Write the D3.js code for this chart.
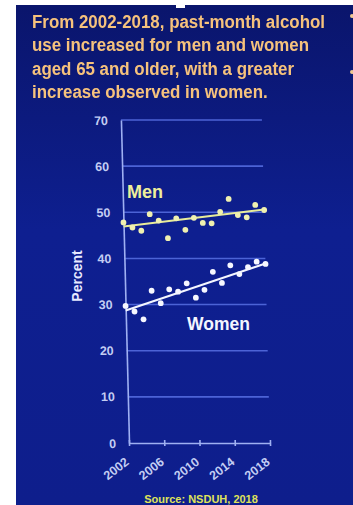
<!DOCTYPE html>
<html>
<head>
<meta charset="utf-8">
<script src="https://cdn.jsdelivr.net/npm/d3@7"></script>
<style>
  html, body { margin: 0; padding: 0; background: #ffffff; }
  svg { display: block; }
  text { font-family: "Liberation Sans", Arial, sans-serif; font-weight: bold; }
</style>
</head>
<body>
<svg id="chart" width="353" height="505"></svg>
<script>
// ---- data ----
const titleLines = [
  "From 2002-2018, past-month alcohol",
  "use increased for men and women",
  "aged 65 and older, with a greater",
  "increase observed in women."
];
const years = [2002, 2003, 2004, 2005, 2006, 2007, 2008, 2009, 2010, 2011, 2012, 2013, 2014, 2015, 2016, 2017, 2018];
const menValues = [47.8, 46.7, 46.0, 49.6, 48.2, 44.4, 48.7, 46.2, 48.8, 47.7, 47.6, 50.1, 52.9, 49.4, 48.9, 51.6, 50.5];
const womenValues = [29.7, 28.5, 26.8, 33.0, 30.3, 33.3, 32.8, 34.6, 31.5, 33.2, 37.1, 34.7, 38.5, 36.6, 38.1, 39.3, 38.8];
const menTrend = [46.9, 50.6];     // trend at 2002, 2018
const womenTrend = [28.7, 38.9];   // trend at 2002, 2018
const xTicks = [2002, 2006, 2010, 2014, 2018];
const yTicks = [0, 10, 20, 30, 40, 50, 60, 70];
const yLabel = "Percent";
const sourceText = "Source: NSDUH, 2018";

// ---- layout ----
const svg = d3.select("#chart");
const W = 353, H = 505;

const defs = svg.append("defs");
const grad = defs.append("linearGradient").attr("id", "bg").attr("x1", 0).attr("y1", 0).attr("x2", 0).attr("y2", 1);
grad.append("stop").attr("offset", "0%").attr("stop-color", "#0a156c");
grad.append("stop").attr("offset", "45%").attr("stop-color", "#0e1f90");
grad.append("stop").attr("offset", "100%").attr("stop-color", "#0e1e8c");

const glow = defs.append("filter").attr("id", "glow").attr("x", "-5%").attr("y", "-20%").attr("width", "110%").attr("height", "140%");
glow.append("feGaussianBlur").attr("in", "SourceGraphic").attr("stdDeviation", 0.5);

svg.append("rect").attr("x", 0).attr("y", 0).attr("width", W).attr("height", H).attr("fill", "#ffffff");
svg.append("rect").attr("x", 16).attr("y", 5).attr("width", W - 16).attr("height", H - 5).attr("fill", "url(#bg)");
svg.append("rect").attr("x", 176).attr("y", 0).attr("width", 9).attr("height", 8).attr("fill", "#ffffff");
svg.append("rect").attr("x", 349).attr("y", 0).attr("width", 4).attr("height", 5).attr("fill", "#ffffff");
// partial bullets at right edge
[16, 72].forEach(y => svg.append("circle").attr("cx", 352).attr("cy", y).attr("r", 2).attr("fill", "#f0c890"));

// title
const title = svg.append("g").attr("filter", "url(#glow)");
titleLines.forEach((t, i) => {
  title.append("text")
    .attr("x", 32)
    .attr("y", 28 + i * 23.3)
    .attr("font-size", 17.5)
    .attr("fill", "#f6c27c")
    .text(t);
});
// fit the first line width to the reference
(function () {
  const nodes = title.selectAll("text").nodes();
  const len0 = nodes[0].getComputedTextLength();
  const target = 293;
  const scale = target / len0;
  nodes.forEach(n => {
    const l = n.getComputedTextLength();
    n.setAttribute("textLength", (l * scale).toFixed(1));
    n.setAttribute("lengthAdjust", "spacingAndGlyphs");
  });
})();

// scales
const x = d3.scaleLinear().domain([2002, 2018]).range([129, 270]);
const y = d3.scaleLinear().domain([0, 70]).range([443, 120]);

// skewed plot group (photo perspective: top leans left)
const skew = 0.025;
const plot = svg.append("g")
  .attr("transform", `translate(0,${443}) matrix(1,0,${skew},1,0,0) translate(0,${-443})`);

const axisColor = "#9fb0f2";
const gridColor = "#4c63d6";

// grid lines
plot.append("g").selectAll("line")
  .data(yTicks.filter(d => d > 0))
  .join("line")
  .attr("x1", x(2002)).attr("x2", x(2018))
  .attr("y1", d => y(d)).attr("y2", d => y(d))
  .attr("stroke", gridColor).attr("stroke-width", 1.6);

// y axis
const yAxis = plot.append("g")
  .attr("transform", `translate(${x(2002)},0)`)
  .call(d3.axisLeft(y).tickValues(yTicks).tickSize(0).tickPadding(13).tickFormat(d3.format("d")));
yAxis.select(".domain").attr("stroke", axisColor).attr("stroke-width", 1.6);
yAxis.selectAll("text").attr("font-size", 12.5).attr("fill", "#c3cdf3")
  .attr("font-family", "Liberation Sans, Arial, sans-serif").attr("font-weight", "bold");

// x axis
const xAxis = plot.append("g")
  .attr("transform", `translate(0,${y(0)})`)
  .call(d3.axisBottom(x).tickValues(xTicks).tickSize(3).tickSizeOuter(0).tickFormat(() => ""));
xAxis.select(".domain").attr("stroke", axisColor).attr("stroke-width", 1.6);
xAxis.selectAll(".tick line").attr("stroke", axisColor).attr("stroke-width", 1.6).attr("y1", -3);

// trend lines
const lineGen = d3.line().x(d => x(d[0])).y(d => y(d[1]));
plot.append("path")
  .datum([[2002, menTrend[0]], [2018, menTrend[1]]])
  .attr("d", lineGen).attr("stroke", "#e8ec9a").attr("stroke-width", 2).attr("fill", "none");
plot.append("path")
  .datum([[2002, womenTrend[0]], [2018, womenTrend[1]]])
  .attr("d", lineGen).attr("stroke", "#f4f6ff").attr("stroke-width", 2).attr("fill", "none");

// points
plot.append("g").selectAll("circle")
  .data(years.map((yr, i) => [yr, menValues[i]]))
  .join("circle")
  .attr("cx", d => x(d[0])).attr("cy", d => y(d[1])).attr("r", 2.9)
  .attr("fill", "#f0f0b0");
plot.append("g").selectAll("circle")
  .data(years.map((yr, i) => [yr, womenValues[i]]))
  .join("circle")
  .attr("cx", d => x(d[0])).attr("cy", d => y(d[1])).attr("r", 2.9)
  .attr("fill", "#f6f7ff");

// x tick labels (rotated)
svg.append("g").selectAll("text")
  .data(xTicks)
  .join("text")
  .attr("transform", d => `translate(${x(d) - 5},${456}) rotate(-38)`)
  .attr("text-anchor", "end")
  .attr("dy", "0.75em")
  .attr("font-size", 12.5)
  .attr("fill", "#c3cdf3")
  .text(d => d);

// y label
svg.append("text")
  .attr("transform", "translate(82,276) rotate(-90)")
  .attr("text-anchor", "middle")
  .attr("font-size", 14)
  .attr("fill", "#e6e9ff")
  .text(yLabel);

// series labels
svg.append("text").attr("x", 127).attr("y", 198).attr("font-size", 18).attr("fill", "#eeef9a").text("Men");
svg.append("text").attr("x", 187).attr("y", 330).attr("font-size", 17.5).attr("fill", "#f4f6ff").text("Women");

// source
svg.append("text")
  .attr("x", 201).attr("y", 503)
  .attr("text-anchor", "middle")
  .attr("font-size", 11)
  .attr("fill", "#dfe35a")
  .text(sourceText);
</script>
</body>
</html>
